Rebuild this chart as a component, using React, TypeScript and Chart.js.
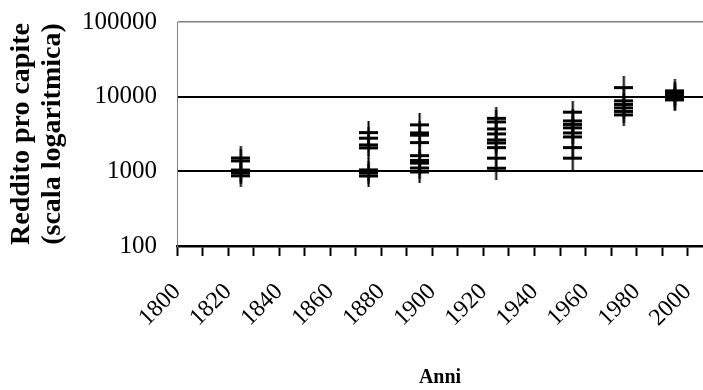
import React, { useEffect, useRef } from 'react';
import { Chart, registerables } from 'chart.js';

Chart.register(...registerables);

// ---- Data ----
const cohortYears = [1825, 1875, 1895, 1925, 1955, 1975, 1995];
const incomes1825 = [1510, 1380, 1040, 950, 870];
const incomes1875 = [3300, 2780, 2260, 2060, 1044, 952, 867];
const incomes1895 = [4190, 3270, 3050, 2425, 1623, 1400, 1290, 1110, 980];
const incomes1925 = [5120, 4590, 3700, 3170, 2635, 2400, 2080, 1500, 1100];
const incomes1955 = [6200, 4740, 4250, 3820, 3270, 2890, 2080, 1500];
const incomes1975 = [13240, 8790, 7880, 7080, 6350, 5700];
const incomes1995 = [11960, 11080, 10250, 9490, 9050];
const incomeByCohort = [incomes1825, incomes1875, incomes1895, incomes1925, incomes1955, incomes1975, incomes1995];

const xTickYears = [1800, 1810, 1820, 1830, 1840, 1850, 1860, 1870, 1880, 1890, 1900, 1910, 1920, 1930, 1940, 1950, 1960, 1970, 1980, 1990, 2000];
const xTickLabels = ['1800', '', '1820', '', '1840', '', '1860', '', '1880', '', '1900', '', '1920', '', '1940', '', '1960', '', '1980', '', '2000'];
const yTickValues = [100, 1000, 10000, 100000];
const yTickLabels = ['100', '1000', '10000', '100000'];

const yTitle = ['Reddito pro capite', '(scala logaritmica)'];
const xTitle = 'Anni';

const FONT = "'Liberation Serif', 'Times New Roman', serif";

function makeCrossMarker(): HTMLCanvasElement {
  const c = document.createElement('canvas');
  c.width = 19;
  c.height = 23;
  const g = c.getContext('2d')!;
  g.fillStyle = '#000';
  g.fillRect(0, 10, 19, 3);
  g.fillRect(8.5, 0, 2, 23);
  return c;
}

export default function App() {
  const ref = useRef<HTMLCanvasElement | null>(null);

  useEffect(() => {
    if (!ref.current) return;
    const points = cohortYears.flatMap((yr, i) => incomeByCohort[i].map((v) => ({ x: yr, y: v })));
    const marker = makeCrossMarker();

    const chart = new Chart(ref.current, {
      type: 'scatter',
      data: {
        datasets: [
          {
            data: points,
            pointStyle: marker as any,
            pointRadius: 10,
            borderColor: '#000',
            backgroundColor: '#000',
          },
        ],
      },
      options: {
        responsive: false,
        animation: false,
        layout: { autoPadding: false, padding: { top: 22, right: 0, left: 0, bottom: 0 } },
        plugins: { legend: { display: false }, tooltip: { enabled: false } },
        scales: {
          x: {
            type: 'linear',
            min: 1800,
            max: 2006,
            afterBuildTicks: (scale: any) => {
              scale.ticks = xTickYears.map((v) => ({ value: v }));
            },
            afterFit: (scale: any) => {
              scale.height = 144;
              scale.paddingRight = 0;
              scale.paddingLeft = 0;
            },
            ticks: {
              autoSkip: false,
              minRotation: 45,
              maxRotation: 45,
              padding: 22,
              color: '#000',
              font: { family: FONT, size: 24 },
              callback: (_v: any, i: number) => xTickLabels[i],
            },
            grid: {
              drawOnChartArea: false,
              drawTicks: true,
              tickLength: 10,
              tickColor: '#000',
              tickWidth: 2,
            },
            border: { display: true, color: '#000', width: 2.5 },
            title: {
              display: true,
              text: xTitle,
              color: '#000',
              font: { family: FONT, size: 20, weight: 'bold' },
              padding: { top: 0, bottom: 0 },
            },
          },
          y: {
            type: 'logarithmic',
            min: 100,
            max: 100000,
            afterBuildTicks: (scale: any) => {
              scale.ticks = yTickValues.map((v) => ({ value: v }));
            },
            afterFit: (scale: any) => {
              scale.width = 177;
              scale.paddingTop = 0;
              scale.paddingBottom = 0;
            },
            ticks: {
              padding: 20,
              color: '#000',
              font: { family: FONT, size: 25 },
              callback: (_v: any, i: number) => yTickLabels[i],
            },
            grid: {
              drawTicks: false,
              color: (ctx: any) => (ctx.tick && ctx.tick.value === 100000 ? '#808080' : '#000'),
              lineWidth: (ctx: any) => (ctx.tick && ctx.tick.value === 100000 ? 1.5 : 2),
            },
            border: { display: true, color: '#808080', width: 1 },
            title: {
              display: true,
              text: yTitle,
              color: '#000',
              font: { family: FONT, size: 28, weight: 'bold', lineHeight: 1.12 },
              padding: { top: 6, bottom: 0 },
            },
          },
        },
      },
    } as any);

    return () => chart.destroy();
  }, []);

  return (
    <div style={{ position: 'absolute', left: 0, top: 0, width: 703, height: 390, background: '#fff' }}>
      <canvas ref={ref} width={703} height={390} style={{ display: 'block' }} />
    </div>
  );
}
